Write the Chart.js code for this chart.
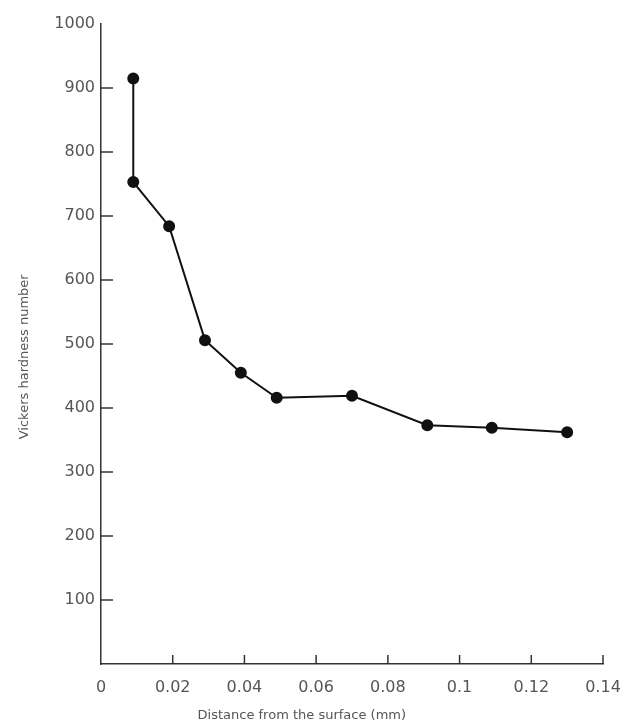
<!DOCTYPE html>
<html>
<head>
<meta charset="utf-8">
<script src="https://cdn.jsdelivr.net/npm/chart.js@4/dist/chart.umd.min.js"></script>
<style>
  html, body { margin: 0; padding: 0; background: #fff; }
  #wrap { width: 622px; height: 726px; }
</style>
</head>
<body>
<div id="wrap"><canvas id="hardChart" width="622" height="726"></canvas></div>
<script>
// distance from the surface (mm) and Vickers hardness
const distance = [0.009, 0.009, 0.019, 0.029, 0.039, 0.049, 0.07, 0.091, 0.109, 0.13];
const hardness = [915, 753, 684, 506, 455, 416, 419, 373, 369, 362];

const xTicks = [0, 0.02, 0.04, 0.06, 0.08, 0.1, 0.12, 0.14];
const yTicks = [100, 200, 300, 400, 500, 600, 700, 800, 900, 1000];

const xTitle = "Distance from the surface (mm)";
const yTitle = "Vickers hardness number";

const ink = "#333";
const labelInk = "#555";
const tickFont = { family: "DejaVu Sans", size: 16 };

/* inward tick marks and the axis titles, placed like the scanned figure */
const innerTicks = {
    id: "innerTicks",
    afterDraw(chart) {
        const c = chart.ctx;
        const xs = chart.scales.x;
        const ys = chart.scales.y;
        c.save();
        c.strokeStyle = ink;
        c.lineWidth = 1.5;
        yTicks.forEach(v => {
            if (v === 1000) return;
            const py = ys.getPixelForValue(v);
            c.beginPath();
            c.moveTo(xs.left, py);
            c.lineTo(xs.left + 12, py);
            c.stroke();
        });
        xTicks.forEach(v => {
            if (v === 0) return;
            const px = xs.getPixelForValue(v);
            c.beginPath();
            c.moveTo(px, ys.bottom);
            c.lineTo(px, ys.bottom - 9);
            c.stroke();
        });

        c.fillStyle = labelInk;
        c.font = "13px 'DejaVu Sans'";
        c.textAlign = "center";
        c.textBaseline = "middle";
        c.fillText(xTitle, xs.getPixelForValue(0.056), xs.bottom - 10);

        c.translate(25, ys.getPixelForValue(480));
        c.rotate(-Math.PI / 2);
        c.fillText(yTitle, 0, 0);
        c.restore();
    }
};

const chart = new Chart(document.getElementById("hardChart"), {
    type: "scatter",
    data: {
        datasets: [{
            data: distance.map((d, i) => ({ x: d, y: hardness[i] })),
            showLine: true,
            borderColor: "#111",
            borderWidth: 2,
            pointRadius: 5,
            pointBackgroundColor: "#111",
            pointBorderColor: "#111",
            tension: 0
        }]
    },
    options: {
        responsive: false,
        animation: false,
        layout: { padding: { top: 24, right: 19, left: 0, bottom: 0 } },
        plugins: {
            legend: { display: false },
            tooltip: { enabled: false }
        },
        scales: {
            x: {
                type: "linear",
                min: 0,
                max: 0.14,
                afterBuildTicks: s => { s.ticks = xTicks.map(v => ({ value: v })); },
                afterFit: s => {
                    s.height = 62;
                    s.paddingRight = 0;
                    s.paddingLeft = 0;
                },
                grid: { display: false, drawTicks: false },
                border: { color: ink, width: 1.5 },
                ticks: {
                    color: labelInk,
                    font: tickFont,
                    padding: 14,
                    maxRotation: 0,
                    callback: v => String(v)
                }
            },
            y: {
                min: 0,
                max: 1000,
                afterBuildTicks: s => { s.ticks = yTicks.map(v => ({ value: v })); },
                afterFit: s => { s.width = 101; },
                grid: { display: false, drawTicks: false },
                border: { color: ink, width: 1.5 },
                ticks: {
                    color: labelInk,
                    font: tickFont,
                    padding: 6,
                    callback: v => String(v)
                }
            }
        }
    },
    plugins: [innerTicks]
});
</script>
</body>
</html>
